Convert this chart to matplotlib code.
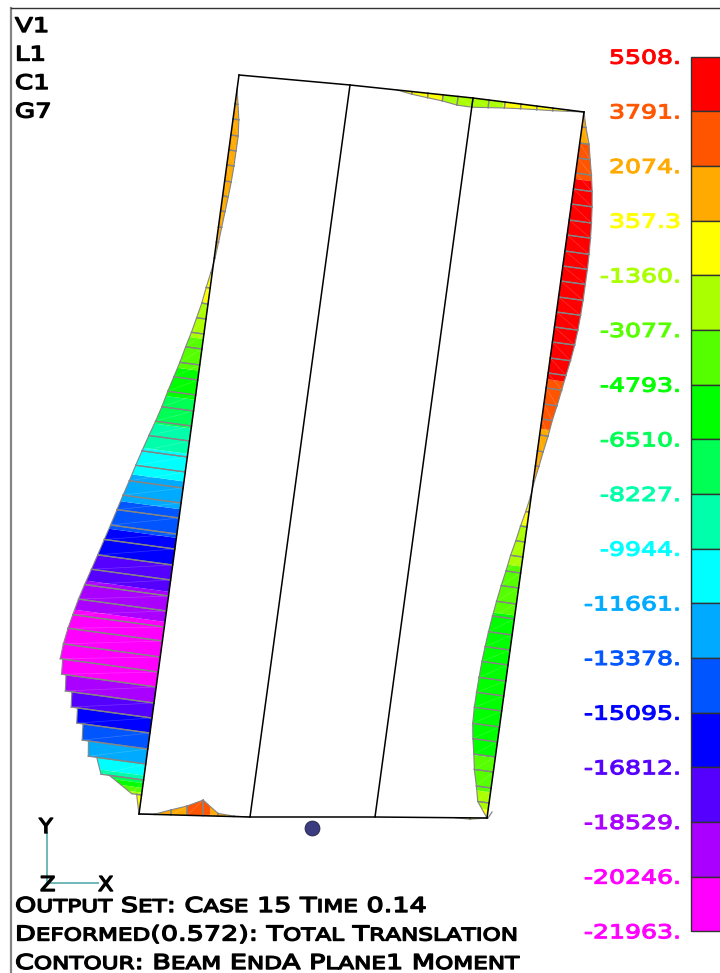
import numpy as np
import matplotlib
matplotlib.use("Agg")
import matplotlib.pyplot as plt
from matplotlib.font_manager import FontProperties, findfont, get_font
from matplotlib.patheffects import AbstractPathEffect
from matplotlib.path import Path
from matplotlib.textpath import TextPath
from matplotlib.transforms import Affine2D

# contour scale, top to bottom as in the legend
scale_labels = ["5508.", "3791.", "2074.", "357.3", "-1360.", "-3077.", "-4793.", "-6510.", "-8227.",
                "-9944.", "-11661.", "-13378.", "-15095.", "-16812.", "-18529.", "-20246.", "-21963."]
scale_levels = [5508, 3791, 2074, 357.3, -1360, -3077, -4793, -6510, -8227,
                -9944, -11661, -13378, -15095, -16812, -18529, -20246, -21963]
scale_colors = ["#ff0000", "#ff5500", "#ffaa00", "#ffff00", "#aaff00", "#55ff00", "#00ff00", "#00ff55",
                "#00ffaa", "#00ffff", "#00aaff", "#0055ff", "#0000ff", "#5500ff", "#aa00ff", "#ff00ff"]
label_colors = scale_colors + ["#ff00ff"]

# member lines of the frame (picture coordinates)
left_wall_x = [239, 139]
left_wall_y = [75, 814]
right_wall_x = [584, 487]
right_wall_y = [112, 818]
mid1_x = [350, 250]
mid1_y = [85, 817]
mid2_x = [473, 375]
mid2_y = [98, 817]
top_x = [239, 350, 473, 584]
top_y = [75, 85, 98, 112]
bottom_x = [139, 250, 375, 487]
bottom_y = [814, 817, 817, 818]

# moment along each member; a station given twice is a jump between two elements
left_sta = [75, 89, 104, 119, 135, 150, 165, 181, 196, 211, 227, 242, 258, 273, 288, 304, 319, 334, 349, 365,
            380, 395, 411, 426, 441, 457, 472, 488, 503, 518, 534, 549, 565, 580, 596, 611, 627, 641, 657, 672,
            672, 687, 687, 703, 703, 718, 718, 733, 733, 749, 749, 764, 764, 780, 780, 795, 795, 814]
left_m = [0, 0, 650, 1300, 1650, 1620, 1600, 1480, 1270, 1000, 730, 480, 180, -330, -890, -1400, -2100, -2800,
          -3650, -4450, -5350, -6250, -7100, -8050, -9100, -10150, -11100, -12050, -13000, -13900, -14850,
          -15800, -16800, -17750, -18800, -19700, -20500, -21150, -21700, -21950,
          -21400, -21200, -20200, -19870, -18400, -18100, -16700, -16400, -15000, -14700, -13300, -12880,
          -10990, -9546, -7680, -2220, -1110, 0]
right_sta = [112, 127, 143, 158, 173, 189, 204, 220, 235, 251, 266, 281, 297, 312, 327, 342, 358, 373, 388, 404,
             419, 435, 451, 466, 481, 497, 512, 527, 542, 557, 573, 588, 604, 619, 635, 650, 665, 681, 696, 711,
             727, 742, 757, 772, 788, 803, 818]
right_m = [0, 900, 2100, 2800, 3550, 4200, 4650, 5000, 5250, 5420, 5500, 5500, 5500, 5400, 5250, 5000, 4550,
           4000, 3500, 2950, 2350, 1900, 1300, 800, 250, -150, -740, -1450, -2050, -2750, -3300, -3900, -4450,
           -4900, -5300, -5600, -5850, -6000, -6100, -6130, -6000, -5500, -4830, -4250, -3300, -2540, 0]
top_sta = [397, 412, 428, 443, 458, 473, 489, 505, 521, 537, 553, 568, 584]
top_m = [0, -600, -1000, -1360, -1950, -2060, -1700, -1330, -1040, -800, -580, -300, 0]
bottom_sta = [140, 155, 171, 187, 203, 218, 234, 250, 455, 470, 487]
bottom_m = [0, 80, 1110, 2070, 3480, 600, 100, 0, 0, -300, 0]

text_lines = ["Output Set: Case 15 Time 0.14",
              "Deformed(0.572): Total Translation",
              "Contour: Beam EndA Plane1 Moment"]
view_labels = ["V1", "L1", "C1", "G7"]

WIDTH, HEIGHT = 720, 973
M_PER_PX = 222.0
GRAY = "#858585"
FONT = FontProperties(family="DejaVu Sans")


def advance(ch):
    font = get_font(findfont(FONT))
    font.set_size(100, 72)
    return font.load_char(ord(ch), flags=2).linearHoriAdvance / 65536 / 100


class WideCaps(AbstractPathEffect):
    # the installed fonts have no wide small caps, so the text outline is built here
    def __init__(self, text, x, y, size, small=None, stretch=1.3, ha="left", heavy=0.7):
        self.text, self.x, self.y = text, x, y
        self.size, self.small, self.stretch, self.ha, self.heavy = size, small or size, stretch, ha, heavy

    def draw_path(self, renderer, gc, tpath, affine, rgbFace=None):
        pen = 0
        parts = []
        for ch in self.text:
            s = self.small if ch.islower() else self.size
            if ch != " ":
                parts.append(TextPath((pen, 0), ch.upper(), size=s, prop=FONT))
            pen += advance(ch.upper()) * s
        x0 = self.x - pen * self.stretch if self.ha == "right" else self.x
        trans = Affine2D().scale(self.stretch, 1).translate(x0, HEIGHT - self.y)
        gc0 = renderer.new_gc()
        gc0.copy_properties(gc)
        gc0.set_linewidth(self.heavy)
        gc0.set_foreground(rgbFace)
        renderer.draw_path(gc0, Path.make_compound_path(*parts), trans, rgbFace)
        gc0.restore()


def wide_text(ax, x, y, s, size, small=None, stretch=1.3, ha="left", color="black", heavy=0.7):
    ax.text(x, y, s, color=color, fontsize=8, ha=ha, va="baseline",
            path_effects=[WideCaps(s, x, y, size, small, stretch, ha, heavy)])


def draw_member(ax, line_x, line_y, sta, m, vertical):
    sta = np.array(sta, dtype=float)
    m = np.array(m, dtype=float)
    if vertical:
        bx, by = np.interp(sta, line_y, line_x), sta
    else:
        bx, by = sta, np.interp(sta, line_x, line_y)
    d = np.array([line_x[-1] - line_x[0], line_y[-1] - line_y[0]], dtype=float)
    d = d / np.hypot(*d)
    tx = bx + d[1] * m / M_PER_PX
    ty = by - d[0] * m / M_PER_PX
    for i in range(len(sta) - 1):
        if sta[i] == sta[i + 1] or (m[i] == 0 and m[i + 1] == 0):
            continue
        X = [[bx[i], bx[i + 1]], [tx[i], tx[i + 1]]]
        Y = [[by[i], by[i + 1]], [ty[i], ty[i + 1]]]
        Z = [[m[i], m[i + 1]], [m[i], m[i + 1]]]
        ax.contourf(X, Y, Z, levels=scale_levels[::-1], colors=scale_colors[::-1], antialiased=True, zorder=2)
        ax.plot([bx[i], tx[i + 1]], [by[i], ty[i + 1]], color="white", alpha=0.2, lw=0.5, zorder=3)
        ax.plot([bx[i], tx[i]], [by[i], ty[i]], color=GRAY, lw=0.9, zorder=4)
        ax.plot([bx[i + 1], tx[i + 1]], [by[i + 1], ty[i + 1]], color=GRAY, lw=0.9, zorder=4)
        ax.plot([tx[i], tx[i + 1]], [ty[i], ty[i + 1]], color=GRAY, lw=0.8, zorder=4)


fig = plt.figure(figsize=(WIDTH / 100, HEIGHT / 100), dpi=100)
ax = fig.add_axes([0, 0, 1, 1])
ax.set_xlim(0, WIDTH)
ax.set_ylim(HEIGHT, 0)
ax.axis("off")

# viewport border
ax.plot([11, 11], [8, HEIGHT], color=GRAY, lw=1.6, zorder=1)
ax.plot([11, WIDTH], [8, 8], color="#333333", lw=1.0, zorder=1)

# moment diagrams
draw_member(ax, left_wall_x, left_wall_y, left_sta, left_m, True)
draw_member(ax, right_wall_x, right_wall_y, right_sta, right_m, True)
draw_member(ax, top_x, top_y, top_sta, top_m, False)
draw_member(ax, bottom_x, bottom_y, bottom_sta, bottom_m, False)

# frame members
for lx, ly in [(left_wall_x, left_wall_y), (right_wall_x, right_wall_y), (mid1_x, mid1_y),
               (mid2_x, mid2_y), (top_x, top_y), (bottom_x, bottom_y)]:
    ax.plot(lx, ly, color="black", lw=1.1, zorder=5)

# small spike at the foot of the right wall
ax.plot([488, 492], [818, 812], color=GRAY, lw=0.9, zorder=4)

ax.scatter([312], [828.3], s=115, color="#3b3b80", edgecolor="#222244", linewidth=0.6, zorder=5)

# legend bar
bar_top = 56.7
bar_h = 54.66
for i, c in enumerate(scale_colors):
    ax.bar(705.5, bar_h, width=30, bottom=bar_top + i * bar_h, color=c, edgecolor="#333333", linewidth=1.0, zorder=2)
for i, (lab, c) in enumerate(zip(scale_labels, label_colors)):
    wide_text(ax, 681, bar_top + i * bar_h + 7, lab, 19.2, stretch=1.31, ha="right", color=c, heavy=0.8)

# view labels and coordinate triad
for i, lab in enumerate(view_labels):
    wide_text(ax, 15, 32 + i * 28.5, lab, 20, stretch=1.3, heavy=1.0)
ax.plot([46.7, 46.7], [833, 882], color="#6fb8b8", lw=1.4, zorder=1)
ax.plot([47, 98], [882.7, 882.7], color="#6fb8b8", lw=1.4, zorder=1)
wide_text(ax, 39, 833, "Y", 20.5, stretch=1.1, heavy=1.0)
wide_text(ax, 40, 891, "Z", 20.5, stretch=1.1, heavy=1.0)
wide_text(ax, 98, 891, "X", 20.5, stretch=1.1, heavy=1.0)

# output set description
for i, line in enumerate(text_lines):
    wide_text(ax, 15, 912 + i * 28.5, line, 20.5, small=17.5, stretch=1.32, heavy=1.0)

fig.savefig("out.png", dpi=100)
